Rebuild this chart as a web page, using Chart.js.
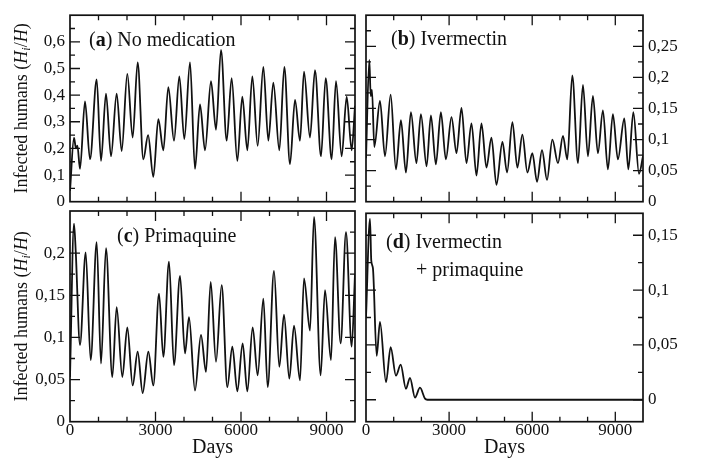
<!DOCTYPE html>
<html><head><meta charset="utf-8">
<script src="https://cdn.jsdelivr.net/npm/chart.js@4"></script>
<style>
html,body{margin:0;padding:0;background:#fff;}
#wrap{position:relative;width:704px;height:463px;overflow:hidden;background:#fff;}
#wrap canvas{position:absolute;left:0;top:0;}
</style></head><body><div id="wrap">
<canvas id="pa" width="704" height="463"></canvas>
<canvas id="pb" width="704" height="463"></canvas>
<canvas id="pc" width="704" height="463"></canvas>
<canvas id="pd" width="704" height="463"></canvas>
</div>
<script>
// ---------- DATA ----------
const xTickLabels = [0, 3000, 6000, 9000];
const yTicksA = [0, 0.1, 0.2, 0.3, 0.4, 0.5, 0.6];
const yTicksB = [0, 0.05, 0.1, 0.15, 0.2, 0.25];
const yTicksC = [0, 0.05, 0.1, 0.15, 0.2];
const yTicksD = [0, 0.05, 0.1, 0.15];

// (a) No medication
const daysA = [0,140,210,260,351,526,702,936,1088,1263,1439,1637,1813,2011,2199,2374,2573,2740,2924,3099,3275,3450,3649,3836,4011,4211,4386,4561,4737,4947,5123,5298,5497,5672,5871,6046,6222,6398,6585,6784,6959,7135,7345,7520,7719,7895,8070,8211,8421,8596,8807,8971,9181,9333,9532,9708,9883,10000];
const infA  = [0.04,0.24,0.20,0.21,0.123,0.376,0.159,0.459,0.153,0.406,0.17,0.406,0.19,0.48,0.241,0.523,0.159,0.25,0.093,0.31,0.193,0.43,0.229,0.47,0.235,0.523,0.123,0.365,0.193,0.452,0.27,0.57,0.229,0.464,0.153,0.394,0.193,0.47,0.21,0.506,0.229,0.447,0.193,0.506,0.141,0.382,0.229,0.488,0.241,0.494,0.17,0.464,0.159,0.452,0.17,0.394,0.193,0.36];

// (b) Ivermectin
const daysB = [0,120,170,216,300,505,685,890,1081,1261,1441,1622,1820,1982,2187,2343,2523,2703,2883,3087,3267,3447,3627,3808,3988,4168,4348,4529,4709,4925,5093,5285,5465,5646,5826,6006,6174,6354,6535,6727,6931,7111,7267,7447,7652,7832,8012,8192,8372,8553,8733,8913,9093,9326,9471,9651,9856,10000];
const infB  = [0.07,0.228,0.17,0.18,0.088,0.162,0.073,0.172,0.052,0.131,0.047,0.144,0.062,0.141,0.057,0.139,0.06,0.144,0.068,0.136,0.078,0.151,0.062,0.126,0.042,0.126,0.055,0.103,0.027,0.096,0.047,0.128,0.055,0.108,0.047,0.078,0.032,0.083,0.035,0.100,0.062,0.106,0.068,0.203,0.062,0.188,0.073,0.170,0.078,0.147,0.052,0.141,0.068,0.134,0.052,0.144,0.045,0.073];

// (c) Primaquine
const daysC = [0,140,200,351,550,725,936,1088,1263,1485,1637,1836,2011,2199,2374,2550,2749,2924,3123,3275,3474,3649,3860,4035,4175,4386,4596,4772,4936,5123,5322,5520,5696,5871,6058,6222,6409,6585,6784,6936,7158,7345,7508,7696,7860,8070,8211,8421,8561,8795,8947,9158,9298,9497,9684,9883,10000];
const infC  = [0.053,0.235,0.203,0.091,0.201,0.073,0.213,0.069,0.206,0.053,0.136,0.053,0.112,0.043,0.083,0.034,0.083,0.043,0.152,0.077,0.19,0.067,0.173,0.081,0.124,0.037,0.103,0.059,0.166,0.071,0.162,0.041,0.089,0.036,0.093,0.036,0.112,0.055,0.146,0.041,0.179,0.065,0.127,0.051,0.114,0.049,0.17,0.108,0.243,0.055,0.156,0.073,0.219,0.093,0.225,0.089,0.175];

// (d) Ivermectin + primaquine
const daysD = [0,144,190,250,385,505,722,890,1081,1252,1441,1588,1768,1949,2130,2215,10000];
const infD  = [0.075,0.165,0.127,0.12,0.040,0.071,0.016,0.048,0.022,0.032,0.010,0.020,0.002,0.011,0.001,0,0];

// ---------- RENDERING ----------
const SERIF = '"Liberation Serif", "DejaVu Serif", serif';
const INK = '#111111';

function fmt(v) {
  if (Math.abs(v) < 1e-9) return '0';
  return String(+v.toFixed(3)).replace('.', ',');
}

function drawParts(ctx, parts, x, y) {
  let cx = x;
  for (const p of parts) {
    ctx.font = `${p.style || 'normal'} ${p.weight || 'normal'} ${p.size}px ${SERIF}`;
    ctx.fillText(p.t, cx, y + (p.dy || 0));
    cx += ctx.measureText(p.t).width;
  }
  return cx - x;
}
function partsWidth(ctx, parts) {
  let w = 0;
  for (const p of parts) {
    ctx.font = `${p.style || 'normal'} ${p.weight || 'normal'} ${p.size}px ${SERIF}`;
    w += ctx.measureText(p.t).width;
  }
  return w;
}

const yTitleParts = [
  {t: 'Infected humans (', size: 18},
  {t: 'H', style: 'italic', size: 18},
  {t: 'i', style: 'italic', size: 12, dy: 3},
  {t: '/', size: 18},
  {t: 'H', style: 'italic', size: 18},
  {t: ')', size: 18}
];

function makePanel(id, cfg) {
  const points = cfg.days.map((d, i) => ({x: d, y: cfg.vals[i]}));
  const framePlugin = {
    id: 'frame' + id,
    afterDraw(chart) {
      const ctx = chart.ctx;
      const {left, top, right, bottom} = chart.chartArea;
      const xs = chart.scales.x, ys = chart.scales.y;
      ctx.save();
      ctx.strokeStyle = INK;
      ctx.lineWidth = 1.3;
      ctx.beginPath();
      for (let k = 1; k < 10; k++) {
        const v = k * 1000;
        const px = xs.getPixelForValue(v);
        const L = xTickLabels.includes(v) ? 10 : 5;
        ctx.moveTo(px, bottom); ctx.lineTo(px, bottom - L);
        ctx.moveTo(px, top); ctx.lineTo(px, top + L);
      }
      const step = cfg.yStep / 2;
      const k0 = Math.ceil(cfg.ymin / step - 1e-6), k1 = Math.floor(cfg.ymax / step + 1e-6);
      for (let k = k0; k <= k1; k++) {
        const py = ys.getPixelForValue(k * step);
        if (py > bottom - 1 || py < top + 1) continue;
        const L = (k % 2 === 0) ? 10 : 5;
        ctx.moveTo(left, py); ctx.lineTo(left + L, py);
        ctx.moveTo(right, py); ctx.lineTo(right - L, py);
      }
      ctx.stroke();
      ctx.lineWidth = 1.7;
      ctx.strokeRect(left, top, right - left, bottom - top);
      ctx.fillStyle = INK;
      ctx.textBaseline = 'alphabetic';
      ctx.textAlign = 'left';
      for (const line of cfg.titleLines) {
        drawParts(ctx, line.parts, left + line.dx, top + line.dy);
      }
      if (cfg.yTitle) {
        ctx.save();
        ctx.translate(27, (top + bottom) / 2);
        ctx.rotate(-Math.PI / 2);
        const w = partsWidth(ctx, yTitleParts);
        drawParts(ctx, yTitleParts, -w / 2, 0);
        ctx.restore();
      }
      ctx.restore();
    }
  };

  return new Chart(document.getElementById(id), {
    type: 'line',
    data: {datasets: [{
      data: points,
      borderColor: INK,
      borderWidth: 1.8,
      pointRadius: 0,
      fill: false,
      cubicInterpolationMode: 'monotone'
    }]},
    options: {
      responsive: false,
      animation: false,
      devicePixelRatio: 1,
      events: [],
      layout: {autoPadding: false, padding: cfg.padding},
      plugins: {legend: {display: false}, tooltip: {enabled: false}},
      scales: {
        x: {
          type: 'linear', min: 0, max: 10000,
          display: cfg.showX,
          afterFit: s => { s.height = cfg.xHeight; },
          afterBuildTicks: s => { s.ticks = xTickLabels.map(v => ({value: v})); },
          grid: {display: false, drawTicks: false},
          border: {display: false},
          ticks: {font: {family: SERIF, size: 17, lineHeight: 1}, color: INK, padding: 0,
                  maxRotation: 0, autoSkip: false, callback: v => String(v)},
          title: {display: cfg.showX, text: 'Days', color: INK, padding: 0,
                  font: {family: SERIF, size: 20, lineHeight: 1.2}}
        },
        y: {
          type: 'linear', position: cfg.yPos, min: cfg.ymin, max: cfg.ymax,
          afterFit: s => { s.width = cfg.yWidth; },
          afterBuildTicks: s => { s.ticks = cfg.yTicks.map(v => ({value: v})); },
          grid: {display: false, drawTicks: false},
          border: {display: false},
          ticks: {font: {family: SERIF, size: 17}, color: INK, padding: 5,
                  autoSkip: false, callback: v => fmt(v)}
        }
      }
    },
    plugins: [framePlugin]
  });
}

makePanel('pa', {
  days: daysA, vals: infA, ymin: 0, ymax: 0.7, yStep: 0.1, yTicks: yTicksA,
  yPos: 'left', yWidth: 60, showX: false, xHeight: 0,
  padding: {left: 10, top: 3, right: 349, bottom: 261.3},
  yTitle: true,
  titleLines: [{dx: 19, dy: 31, parts: [
    {t: '(', size: 20}, {t: 'a', weight: 'bold', size: 20}, {t: ') No medication', size: 20}]}]
});
makePanel('pb', {
  days: daysB, vals: infB, ymin: 0, ymax: 0.3, yStep: 0.05, yTicks: yTicksB,
  yPos: 'right', yWidth: 61, showX: false, xHeight: 0,
  padding: {left: 366, top: 4, right: 0, bottom: 261.3},
  yTitle: false,
  titleLines: [{dx: 25, dy: 29.5, parts: [
    {t: '(', size: 20}, {t: 'b', weight: 'bold', size: 20}, {t: ') Ivermectin', size: 20}]}]
});
makePanel('pc', {
  days: daysC, vals: infC, ymin: 0, ymax: 0.25, yStep: 0.05, yTicks: yTicksC,
  yPos: 'left', yWidth: 60, showX: true, xHeight: 38,
  padding: {left: 10, top: 211, right: 349, bottom: 3.3},
  yTitle: true,
  titleLines: [{dx: 47, dy: 31, parts: [
    {t: '(', size: 20}, {t: 'c', weight: 'bold', size: 20}, {t: ') Primaquine', size: 20}]}]
});
makePanel('pd', {
  days: daysD, vals: infD, ymin: -0.02, ymax: 0.17, yStep: 0.05, yTicks: yTicksD,
  yPos: 'right', yWidth: 61, showX: true, xHeight: 38,
  padding: {left: 366, top: 213.3, right: 0, bottom: 3.3},
  yTitle: false,
  titleLines: [
    {dx: 20, dy: 35, parts: [
      {t: '(', size: 20}, {t: 'd', weight: 'bold', size: 20}, {t: ') Ivermectin', size: 20}]},
    {dx: 50, dy: 63, parts: [{t: '+ primaquine', size: 20}]}
  ]
});
</script>
</body></html>
